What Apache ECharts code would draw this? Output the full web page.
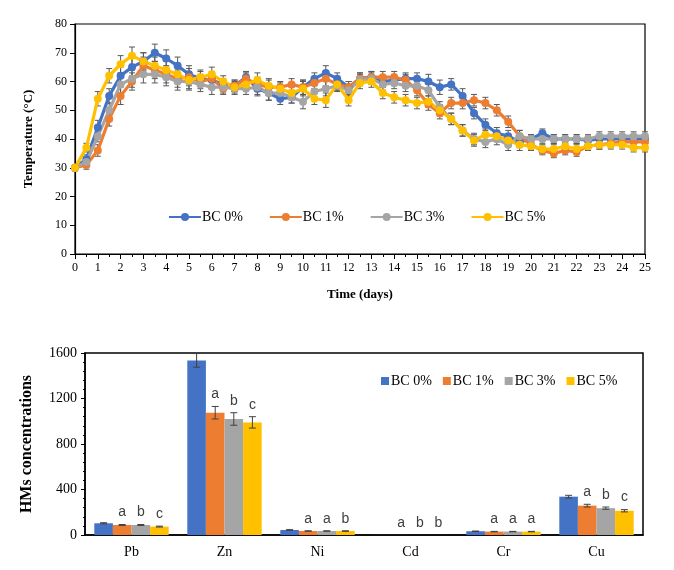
<!DOCTYPE html>
<html><head><meta charset="utf-8">
<script src="https://cdn.jsdelivr.net/npm/echarts@6/dist/echarts.min.js"></script>
<style>html,body{margin:0;padding:0;background:#fff;}#c{width:674px;height:570px;}</style>
</head><body><div id="c"></div>
<script>
const days = [0,0.5,1,1.5,2,2.5,3,3.5,4,4.5,5,5.5,6,6.5,7,7.5,8,8.5,9,9.5,10,10.5,11,11.5,12,12.5,13,13.5,14,14.5,15,15.5,16,16.5,17,17.5,18,18.5,19,19.5,20,20.5,21,21.5,22,22.5,23,23.5,24,24.5,25];
const lineNames = ['BC 0%','BC 1%','BC 3%','BC 5%'];
const temp0 = [30,33,44,55,62,65,67,70,68,65.5,62.5,61,60.5,59,58.5,61.5,57.5,56,54,54.5,58,61,63,61,58,61,61.5,60,60.5,61,61,60,58,59,55,49,45,42,41,39,40,42,40,40,40,39.5,40,40,40,40,40];
const temp1 = [30,31,36,47,55,60,65.5,64,62.5,61,61.5,60,61,57.5,58.5,61,59,58,58,59,58,59.5,61,59,58,61,61.5,61.5,61.5,60.5,57,52,49,52.5,52.5,53.5,52.5,50,46,41,38,36,35,36,35.5,37.5,38,38.5,39,39,39];
const temp3 = [30,32,41,50,59,61,62.5,62.5,61.5,60,60,59,58,58,57.5,57.5,58,56,56,54.5,53,56.5,57.5,58.5,57,60.5,61,59,59.5,58.5,58.5,57,51,47,43,40,39,40,38,41,40,40,40,40,40,40,41,41,41,41,41];
const temp5 = [30,37,54,62,66,69,67,65.5,64,62.5,60.5,61.5,62.5,60,58,59,60.5,58.5,57.5,56,57.5,54,53.5,59,53.5,59.5,60,56,54.5,53.5,52.5,53,50,47,43,39.5,41.5,41,39.5,38,37.5,36.5,36.5,37.5,36.5,37.5,38,38,38,37,37];
const err0 = [1,1.5,2.5,2.5,3,3,3,3,3,3,3,2.5,2.5,2,2,2,2.5,2.5,2,2,2.5,2,2.5,2,2,2,2,2,2,2,2,2.5,2.5,2,2.5,2,2,2,2,2,1.5,1.5,1.5,1.5,1.5,1.5,1.5,1.5,1.5,1.5,1.5];
const err1 = [1,1.5,2,2.5,3,3,3,3,3,3,3,2.5,2.5,2,2,2,2.5,2.5,2,2,2.5,2,2.5,2,2,2,2,2,2,2,2,2,2,2,2,2,2,2,2,2,1.5,1.5,1.5,1.5,1.5,1.5,1.5,1.5,1.5,1.5,1.5];
const err3 = [1,1.5,2,2.5,3,3,3,3,3,3,3,2.5,2.5,2,2,2,2.5,2.5,2,2,2.5,2,2.5,2,2,2,2,2,2,2,2,2,2,2,2,2,2,2,2,2,1.5,1.5,1.5,1.5,1.5,1.5,1.5,1.5,1.5,1.5,1.5];
const err5 = [1,1.5,2.5,2.5,3,3,3,3,3,3,3,2.5,2.5,2,2,2,2.5,2.5,2,2,2.5,2,2.5,2,2,2,2,2,2,2,2,2,2,2,2,2,2,2,2,2,1.5,1.5,1.5,1.5,1.5,1.5,1.5,1.5,1.5,1.5,1.5];
const tempYTicks = [0,10,20,30,40,50,60,70,80];

const metals = ['Pb','Zn','Ni','Cd','Cr','Cu'];
const hm0 = [103,1535,44,1,33,337];
const hm1 = [88,1075,35,0.5,30,258];
const hm3 = [88,1020,35,0.3,30,236];
const hm5 = [74,990,35,0.3,30,213];
const hmErr0 = [5,60,3,0,2,12];
const hmErr1 = [4,55,2,0,2,12];
const hmErr3 = [4,55,2,0,2,10];
const hmErr5 = [4,50,2,0,2,10];
const letters0 = ['','','','','',''];
const letters1 = ['a','a','a','a','a','a'];
const letters3 = ['b','b','a','b','a','b'];
const letters5 = ['c','c','b','b','a','c'];
const hmYTicks = [0,400,800,1200,1600];

const colors = ['#4472C4','#ED7D31','#A5A5A5','#FFC000'];
const serif = 'Liberation Serif';

const temps = [temp0,temp1,temp3,temp5];
const errs = [err0,err1,err3,err5];
const hms = [hm0,hm1,hm3,hm5];
const hmErrs = [hmErr0,hmErr1,hmErr3,hmErr5];
const letters = [letters0,letters1,letters3,letters5];

const series = [];
temps.forEach((t,i)=>{
  series.push({
    type:'custom', xAxisIndex:0, yAxisIndex:0, silent:true, z:1,
    data: days.map((d,k)=>[d,t[k],errs[i][k]]),
    encode:{x:0,y:1},
    renderItem:(params,api)=>{
      const x=api.value(0), y=api.value(1), e=api.value(2);
      const hi=api.coord([x,y+e]), lo=api.coord([x,y-e]);
      const w=3;
      return {type:'group',children:[
        {type:'line',shape:{x1:hi[0],y1:hi[1],x2:lo[0],y2:lo[1]},style:{stroke:'#595959',lineWidth:1}},
        {type:'line',shape:{x1:hi[0]-w,y1:hi[1],x2:hi[0]+w,y2:hi[1]},style:{stroke:'#595959',lineWidth:1}},
        {type:'line',shape:{x1:lo[0]-w,y1:lo[1],x2:lo[0]+w,y2:lo[1]},style:{stroke:'#595959',lineWidth:1}}
      ]};
    }
  });
});
temps.forEach((t,i)=>{
  series.push({
    name:lineNames[i], type:'line', xAxisIndex:0, yAxisIndex:0, z:3,
    data: days.map((d,k)=>[d,t[k]]),
    symbol:'circle', symbolSize:8, color:colors[i],
    lineStyle:{width:3.2,color:colors[i]}, itemStyle:{color:colors[i]},
    animation:false
  });
});
hms.forEach((h,i)=>{
  series.push({
    name:lineNames[i]+' ', type:'bar', xAxisIndex:1, yAxisIndex:1,
    data:h, itemStyle:{color:colors[i]}, barGap:'0%', barCategoryGap:'20%', animation:false
  });
});
hms.forEach((h,i)=>{
  series.push({
    type:'custom', xAxisIndex:1, yAxisIndex:1, silent:true, z:5,
    data: h.map((v,k)=>[k,v,hmErrs[i][k]]),
    encode:{x:0,y:1},
    renderItem:(params,api)=>{
      const k=api.value(0), v=api.value(1), e=api.value(2);
      const band=api.size([1,0])[0];
      const bw=band*0.8/4;
      const base=api.coord([k,0]);
      const cx=base[0]-band*0.4+bw*(i+0.5);
      const hiY=api.coord([k,v+e])[1], loY=api.coord([k,Math.max(v-e,0)])[1];
      const w=3.5;
      const ch=[];
      if(e>0){
        ch.push({type:'line',shape:{x1:cx,y1:hiY,x2:cx,y2:loY},style:{stroke:'#404040',lineWidth:1}});
        ch.push({type:'line',shape:{x1:cx-w,y1:hiY,x2:cx+w,y2:hiY},style:{stroke:'#404040',lineWidth:1}});
        ch.push({type:'line',shape:{x1:cx-w,y1:loY,x2:cx+w,y2:loY},style:{stroke:'#404040',lineWidth:1}});
      }
      const L=letters[i][k];
      if(L){
        ch.push({type:'text',style:{x:cx,y:hiY-5,text:L,align:'center',verticalAlign:'bottom',fill:'#404040',font:'14px "Liberation Sans"'}});
      }
      return {type:'group',children:ch};
    }
  });
});

const chart = echarts.init(document.getElementById('c'),null,{renderer:'canvas'});
chart.setOption({
  animation:false,
  backgroundColor:'#fff',
  grid:[
    {left:75,right:29,top:24,bottom:316,show:true,borderColor:'#000',borderWidth:1.2,backgroundColor:'transparent'},
    {left:85,right:31,top:353,bottom:35,show:true,borderColor:'#000',borderWidth:1.5,backgroundColor:'transparent'}
  ],
  legend:[
    {data:lineNames, left:163, top:205, itemWidth:32, itemHeight:10, itemGap:26,
     textStyle:{fontFamily:serif,fontSize:14,color:'#000',padding:[0,0,0,-4]}},
    {data:lineNames.map(n=>n+' '), left:376, top:369, itemWidth:8, itemHeight:8, itemGap:11, icon:'rect',
     formatter:n=>n.trim(), textStyle:{fontFamily:serif,fontSize:14,color:'#000',padding:[0,0,0,-3]}}
  ],
  xAxis:[
    {type:'value', gridIndex:0, min:0, max:25, interval:1,
     name:'Time (days)', nameLocation:'middle', nameGap:34,
     nameTextStyle:{fontFamily:serif,fontWeight:'bold',fontSize:13,color:'#000'},
     axisLine:{lineStyle:{color:'#000',width:1.2}}, axisTick:{show:true,length:5,lineStyle:{color:'#000'}},
     minorTick:{show:true,splitNumber:2,length:3,lineStyle:{color:'#000'}},
     axisLabel:{fontFamily:serif,fontSize:12,color:'#000',margin:8}, splitLine:{show:false}},
    {type:'category', gridIndex:1, data:metals,
     axisLine:{lineStyle:{color:'#000',width:1.5}}, axisTick:{show:false},
     axisLabel:{fontFamily:serif,fontSize:14,color:'#000',margin:10}}
  ],
  yAxis:[
    {type:'value', gridIndex:0, min:0, max:80, interval:10,
     name:'Temperature (°C)', nameLocation:'middle', nameGap:40, nameRotate:90,
     nameTextStyle:{fontFamily:serif,fontWeight:'bold',fontSize:13,color:'#000'},
     axisLine:{show:true,lineStyle:{color:'#000',width:1.2}}, axisTick:{show:true,length:5,lineStyle:{color:'#000'}},
     axisLabel:{fontFamily:serif,fontSize:12,color:'#000',margin:8}, splitLine:{show:false}},
    {type:'value', gridIndex:1, min:0, max:1600, interval:400,
     name:'HMs concentrations', nameLocation:'middle', nameGap:50, nameRotate:90,
     nameTextStyle:{fontFamily:serif,fontWeight:'bold',fontSize:16,color:'#000'},
     axisLine:{show:true,lineStyle:{color:'#000',width:1.5}}, axisTick:{show:true,length:4,lineStyle:{color:'#000'}},
     minorTick:{show:true,splitNumber:5,length:2,lineStyle:{color:'#000'}},
     axisLabel:{fontFamily:serif,fontSize:14,color:'#000',margin:8,formatter:v=>String(v)}, splitLine:{show:false}}
  ],
  series:series
});
</script></body></html>
